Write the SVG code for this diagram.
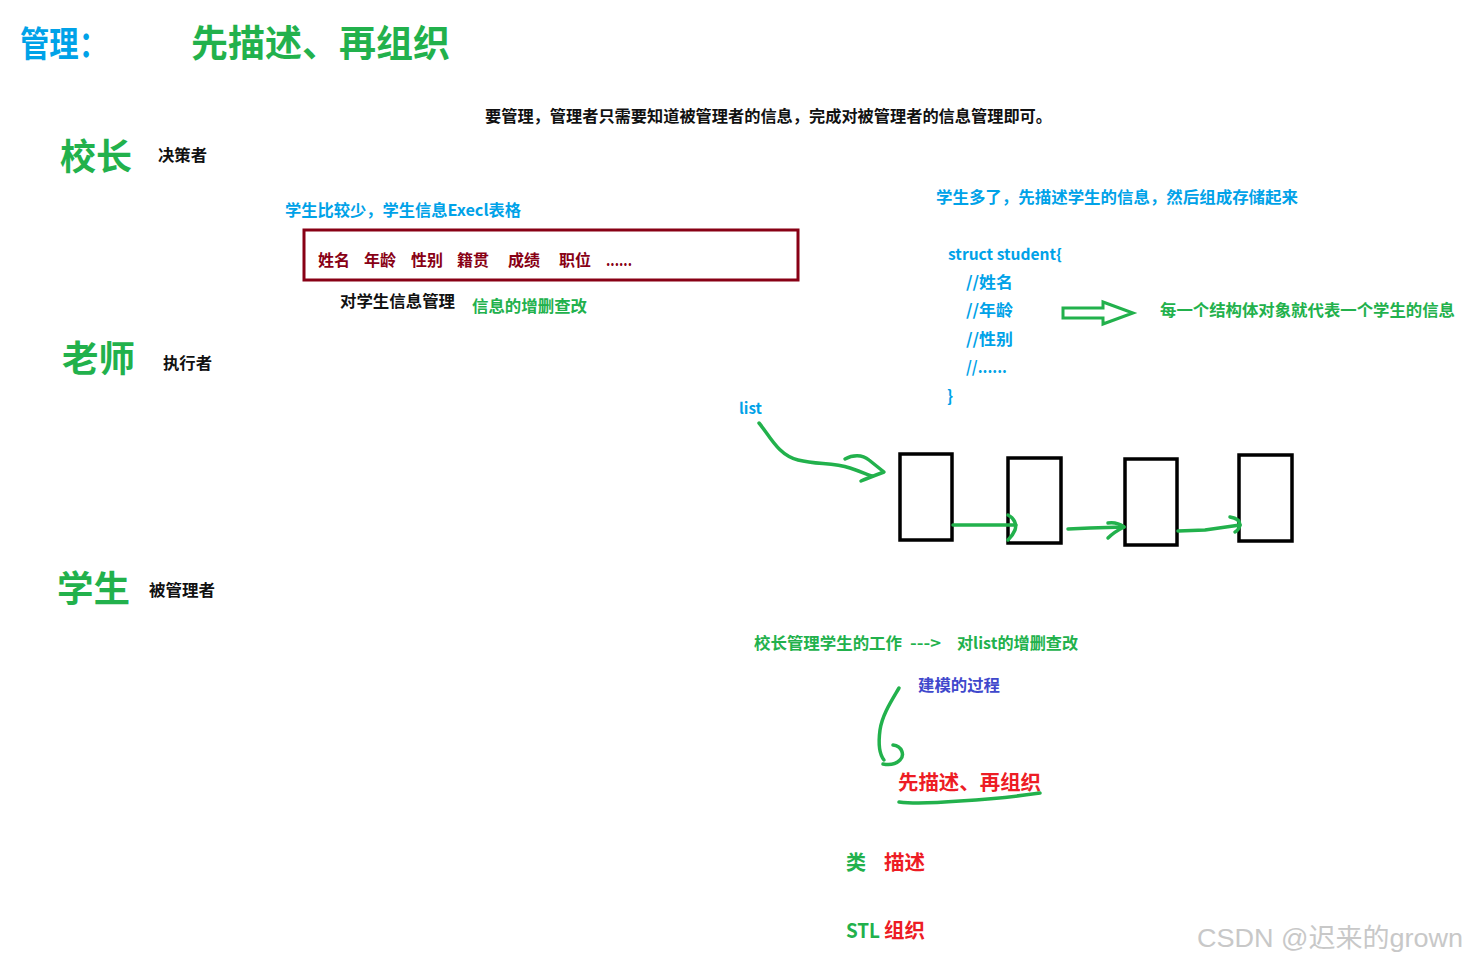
<svg xmlns="http://www.w3.org/2000/svg" width="1467" height="964" viewBox="0 0 1467 964">
<style>
text{font-family:"Noto Sans CJK SC","Noto Sans",sans-serif;font-weight:bold;dominant-baseline:central}
.blue{fill:#00a2e8}
.green{fill:#22b14c}
.black{fill:#111}
.dred{fill:#880015}
.red{fill:#ed1c24}
.indigo{fill:#3f48cc}
.big{font-size:36px}
.s16{font-size:16px}
.s15{font-size:15px}
.pen{fill:none;stroke:#22b14c;stroke-width:3.5;stroke-linecap:round;stroke-linejoin:round}
.box{fill:#fff;stroke:#000;stroke-width:3.5}
</style>
<rect width="1467" height="964" fill="#fff"/>
<g id="title">
<text x="20" y="41" class="blue" font-size="35" textLength="88" lengthAdjust="spacingAndGlyphs">管理：</text>
<text x="191" y="41" class="green" font-size="37" textLength="259" lengthAdjust="spacingAndGlyphs">先描述、再组织</text>
</g>
<g id="intro">
<text x="485" y="115" class="black s16" textLength="567" lengthAdjust="spacingAndGlyphs">要管理，管理者只需要知道被管理者的信息，完成对被管理者的信息管理即可。</text>
</g>
<g id="principal">
<text x="60" y="154" class="green big" textLength="72" lengthAdjust="spacingAndGlyphs">校长</text>
<text x="158" y="154" class="black s16" textLength="49" lengthAdjust="spacingAndGlyphs">决策者</text>
</g>
<g id="teacher">
<text x="62" y="356" class="green big" textLength="73" lengthAdjust="spacingAndGlyphs">老师</text>
<text x="163" y="362" class="black s16" textLength="49" lengthAdjust="spacingAndGlyphs">执行者</text>
</g>
<g id="student">
<text x="57" y="586" class="green big" textLength="73" lengthAdjust="spacingAndGlyphs">学生</text>
<text x="149" y="589" class="black s16" textLength="66" lengthAdjust="spacingAndGlyphs">被管理者</text>
</g>
<g id="excel">
<text x="285" y="209" class="blue s16" textLength="236" lengthAdjust="spacingAndGlyphs">学生比较少，学生信息Execl表格</text>
<rect x="304" y="230" width="494" height="50" fill="none" stroke="#880015" stroke-width="3"/>
<text x="318" y="259" class="dred s16">姓名</text>
<text x="364" y="259" class="dred s16">年龄</text>
<text x="411" y="259" class="dred s16">性别</text>
<text x="457" y="259" class="dred s16">籍贯</text>
<text x="508" y="259" class="dred s16">成绩</text>
<text x="559" y="259" class="dred s16">职位</text>
<text x="606" y="259" class="dred s16" textLength="26" lengthAdjust="spacingAndGlyphs">......</text>
<text x="340" y="300" class="black s16" textLength="115" lengthAdjust="spacingAndGlyphs">对学生信息管理</text>
<text x="472" y="305" class="green s16" textLength="115" lengthAdjust="spacingAndGlyphs">信息的增删查改</text>
</g>
<g id="struct">
<text x="936" y="196" class="blue s16" textLength="362" lengthAdjust="spacingAndGlyphs">学生多了，先描述学生的信息，然后组成存储起来</text>
<text x="948" y="253" class="blue s15" textLength="114" lengthAdjust="spacingAndGlyphs">struct student{</text>
<text x="966" y="281" class="blue s16" textLength="47" lengthAdjust="spacingAndGlyphs">//姓名</text>
<text x="966" y="309" class="blue s16" textLength="47" lengthAdjust="spacingAndGlyphs">//年龄</text>
<text x="966" y="338" class="blue s16" textLength="47" lengthAdjust="spacingAndGlyphs">//性别</text>
<text x="966" y="366" class="blue s16" textLength="41" lengthAdjust="spacingAndGlyphs">//......</text>
<text x="947" y="395" class="blue s16">}</text>
<text x="1160" y="309" class="green s16" textLength="295" lengthAdjust="spacingAndGlyphs">每一个结构体对象就代表一个学生的信息</text>
</g>
<g id="list">
<text x="739" y="407" class="blue s15" textLength="23" lengthAdjust="spacingAndGlyphs">list</text>
<rect class="box" x="900" y="454" width="52" height="86"/>
<rect class="box" x="1008" y="458" width="53" height="85"/>
<rect class="box" x="1125" y="459" width="52" height="86"/>
<rect class="box" x="1239" y="455" width="53" height="86"/>
</g>
<g id="model">
<text x="754" y="642" class="green s16" textLength="148" lengthAdjust="spacingAndGlyphs">校长管理学生的工作</text>
<text x="910" y="642" class="green s16" textLength="31" lengthAdjust="spacingAndGlyphs">---&gt;</text>
<text x="957" y="642" class="green s16" textLength="121" lengthAdjust="spacingAndGlyphs">对list的增删查改</text>
<text x="918" y="684" class="indigo s16" textLength="82" lengthAdjust="spacingAndGlyphs">建模的过程</text>
<text x="898" y="781" class="red" font-size="20" textLength="143" lengthAdjust="spacingAndGlyphs">先描述、再组织</text>
<text x="846" y="861" class="green" font-size="20">类</text>
<text x="884" y="861" class="red" font-size="20" textLength="41" lengthAdjust="spacingAndGlyphs">描述</text>
<text x="846" y="929" class="green" font-size="20" textLength="34" lengthAdjust="spacingAndGlyphs">STL</text>
<text x="884" y="929" class="red" font-size="20" textLength="41" lengthAdjust="spacingAndGlyphs">组织</text>
</g>
<g id="connectors">
<path d="M1063,308 L1103,308 L1103,302 L1133,313 L1103,324 L1103,318 L1063,318 Z" fill="none" stroke="#22b14c" stroke-width="3" stroke-linejoin="miter"/>
<path class="pen" d="M759,423 C770,436 778,455 798,460 C818,465 832,462 850,468 C862,472 868,475 872,476"/>
<path class="pen" d="M845,459 C852,455 862,454 869,460 L884,472 C876,475 868,478 861,481"/>
<path class="pen" d="M953,525 L1016,525"/>
<path class="pen" d="M1008,515 C1014,518 1017,524 1015,530 C1013,535 1010,538 1008,540"/>
<path class="pen" d="M1068,529 L1090,528 L1124,527"/>
<path class="pen" d="M1108,523 C1115,522 1120,524 1124,527 C1118,530 1112,534 1108,538"/>
<path class="pen" d="M1178,531 L1205,530 L1240,525"/>
<path class="pen" d="M1230,517 C1236,518 1240,521 1240,525 C1239,529 1237,531 1235,532"/>
<path class="pen" d="M899,688 C892,700 882,715 880,730 C878,745 880,755 884,760"/>
<path class="pen" d="M893,745 C902,746 905,755 900,760 C895,765 888,765 883,764"/>
<path class="pen" d="M899,802 C915,804 935,803 960,801 C990,799 1020,796 1040,793"/>
</g>
<g id="watermark">
<text x="1197" y="938" font-size="26" fill="#c8c8c8" textLength="266" lengthAdjust="spacingAndGlyphs" style="font-family:'Liberation Sans','Noto Sans CJK SC',sans-serif;font-weight:normal">CSDN @迟来的grown</text>
</g>
</svg>
